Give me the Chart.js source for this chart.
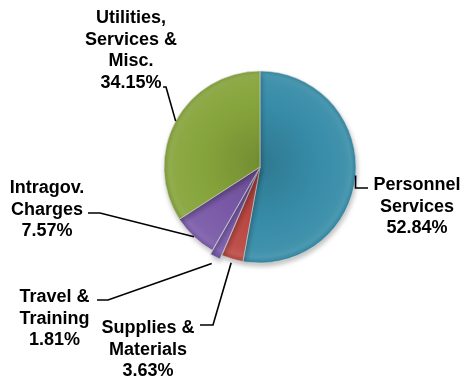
<!DOCTYPE html>
<html>
<head>
<meta charset="utf-8">
<script src="https://cdn.jsdelivr.net/npm/chart.js@4/dist/chart.umd.min.js"></script>
<style>
  html, body { margin: 0; padding: 0; background: #ffffff; }
  #wrap { position: relative; width: 464px; height: 382px; }
</style>
</head>
<body>
<div id="wrap"><canvas id="pie" width="464" height="382"></canvas></div>
<script>
// Budget shares by spending category (percent of total)
const categories = [
  ["Personnel", "Services"],
  ["Supplies &", "Materials"],
  ["Travel &", "Training"],
  ["Intragov.", "Charges"],
  ["Utilities,", "Services &", "Misc."]
];
const shares = [52.84, 3.63, 1.81, 7.57, 34.15];
const sliceColors = ["#378ca8", "#bb4843", "#7a5cac", "#7a5aa8", "#86a43b"];
const sliceOffsets = [0, 0, 9, 0, 0];

// Callout placement: text centre x, first baseline, and leader polyline
// (points listed from the text side; the last segment runs to the slice edge).
const callouts = [
  { x: 417, y: 190, path: [[368, 188], [355.5, 188]], reach: 0 },
  { x: 148, y: 333, path: [[200, 325], [213, 325]], reach: 4 },
  { x: 54.5, y: 302, path: [[97, 300], [108, 300]], reach: 3 },
  { x: 47, y: 193, path: [[88, 213], [100, 213]], reach: 0 },
  { x: 131, y: 23, path: [[163, 87], [166, 87]], reach: 0 }
];
const lineStep = 21.6;

function mix(hex, amt) {
  const n = parseInt(hex.slice(1), 16);
  let r = (n >> 16) & 255, g = (n >> 8) & 255, b = n & 255;
  const t = amt < 0 ? 0 : 255, p = Math.abs(amt);
  r = Math.round(r + (t - r) * p);
  g = Math.round(g + (t - g) * p);
  b = Math.round(b + (t - b) * p);
  return `rgb(${r},${g},${b})`;
}

// Soft bevel: darker towards the centre, light band and dark rim at the edge
function sliceFill(context) {
  const base = sliceColors[context.dataIndex];
  const chart = context.chart;
  const area = chart.chartArea;
  if (!area) return base;
  const cx = (area.left + area.right) / 2;
  const cy = (area.top + area.bottom) / 2;
  const r = 96 + 10;
  const g = chart.ctx.createRadialGradient(cx, cy - 6, 0, cx, cy, r);
  g.addColorStop(0, mix(base, -0.14));
  g.addColorStop(0.55, base);
  g.addColorStop(0.8, mix(base, 0.05));
  g.addColorStop(0.86, mix(base, 0.1));
  g.addColorStop(0.91, mix(base, -0.06));
  g.addColorStop(1, mix(base, -0.22));
  return g;
}

const softShadow = {
  id: "softShadow",
  beforeDatasetsDraw(chart) {
    const ctx = chart.ctx;
    ctx.save();
    ctx.shadowColor = "rgba(0,0,0,0.25)";
    ctx.shadowBlur = 5;
    ctx.shadowOffsetX = 1;
    ctx.shadowOffsetY = 3;
  },
  afterDatasetsDraw(chart) {
    chart.ctx.restore();
  }
};

const calloutLabels = {
  id: "calloutLabels",
  afterDraw(chart) {
    const ctx = chart.ctx;
    const arcs = chart.getDatasetMeta(0).data;
    ctx.save();
    ctx.fillStyle = "#000000";
    ctx.strokeStyle = "#000000";
    ctx.lineWidth = 1.6;
    ctx.font = "bold 18px 'Liberation Sans', Arial, sans-serif";
    ctx.textAlign = "center";
    ctx.textBaseline = "alphabetic";
    arcs.forEach((arc, i) => {
      const c = callouts[i];
      const mid = (arc.startAngle + arc.endAngle) / 2;
      const rr = arc.outerRadius + sliceOffsets[i] + c.reach;
      const ax = arc.x + Math.cos(mid) * rr;
      const ay = arc.y + Math.sin(mid) * rr;
      ctx.beginPath();
      ctx.moveTo(c.path[0][0], c.path[0][1]);
      for (let k = 1; k < c.path.length; k++) ctx.lineTo(c.path[k][0], c.path[k][1]);
      ctx.lineTo(ax, ay);
      ctx.stroke();
      const lines = categories[i].concat([shares[i].toFixed(2) + "%"]);
      lines.forEach((t, k) => ctx.fillText(t, c.x, c.y + k * lineStep));
    });
    ctx.restore();
  }
};

new Chart(document.getElementById("pie"), {
  type: "pie",
  data: {
    labels: categories.map(l => l.join(" ")),
    datasets: [{
      data: shares,
      backgroundColor: sliceFill,
      borderColor: "rgba(225,225,225,0.7)",
      borderWidth: 0.8,
      offset: sliceOffsets
    }]
  },
  options: {
    responsive: false,
    animation: false,
    radius: 96,
    rotation: 0,
    layout: { padding: { left: 56, right: 0, top: 0, bottom: 48 } },
    plugins: {
      legend: { display: false },
      tooltip: { enabled: false }
    }
  },
  plugins: [softShadow, calloutLabels]
});
</script>
</body>
</html>
